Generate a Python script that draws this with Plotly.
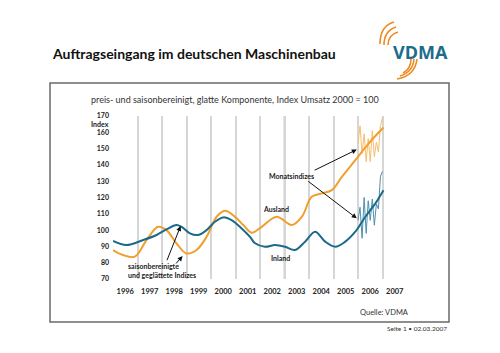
import plotly.graph_objects as go

# ---------------- data ----------------
years = [str(y) for y in range(1996, 2008)]
year_mid = [y + 0.5 for y in range(1996, 2008)]
y_ticks = [70, 80, 90, 100, 110, 120, 130, 140, 150, 160, 170]

inland_t = [1996.00, 1996.55, 1997.23, 1997.78, 1998.18, 1998.59, 1998.80, 1999.14, 1999.48,
            1999.82, 2000.16, 2000.50, 2000.84, 2001.25, 2001.59, 2001.80, 2002.20, 2002.61,
            2003.02, 2003.43, 2003.84, 2004.25, 2004.66, 2005.07, 2005.48, 2005.89, 2006.30,
            2006.71, 2007.04]
inland_v = [93.3, 90.8, 93.9, 97.0, 100.4, 103.1, 102.0, 98.0, 97.0,
            100.0, 105.1, 107.8, 106.1, 101.0, 95.9, 91.9, 89.8, 90.8,
            89.8, 87.8, 92.9, 99.0, 92.9, 89.8, 92.9, 99.0, 108.2,
            116.4, 124.5]

ausland_t = [1996.00, 1996.41, 1996.89, 1997.37, 1997.84, 1998.18, 1998.59, 1999.00, 1999.41,
             1999.82, 2000.23, 2000.57, 2000.98, 2001.32, 2001.66, 2002.07, 2002.68, 2003.30,
             2003.71, 2004.11, 2004.52, 2004.93, 2005.34, 2005.89, 2006.43, 2007.04]
ausland_v = [87.8, 84.7, 83.7, 93.9, 102.0, 100.0, 91.9, 85.7, 87.8,
             95.9, 108.2, 111.8, 108.2, 103.1, 98.4, 102.0, 108.2, 103.1,
             108.2, 120.4, 122.5, 124.5, 132.6, 142.9, 153.1, 162.9]

month_t = [2006 + i / 12 for i in range(13)]
ausland_monthly = [153, 164, 147, 159, 142, 156, 142, 161, 145, 154, 148, 164, 169]
inland_monthly = [106, 114, 95, 120, 98, 118, 106, 119, 103, 116, 113, 133, 136]

# ---------------- styling ----------------
ORANGE = "#F29E2C"
ORANGE_L = "#F6BE6E"
TEAL = "#1B6A89"
TEAL_L = "#4E90AB"
FONT = "Lato"

L, R, T, B = 113, 93, 116, 74
PW, PH = 500 - L - R, 353 - T - B


def px(x):
    return (x - L) / PW


def py(y):
    return (353 - B - y) / PH


fig = go.Figure()
fig.add_trace(go.Scatter(x=month_t, y=ausland_monthly, mode="lines",
                         line=dict(color=ORANGE_L, width=1), hoverinfo="skip"))
fig.add_trace(go.Scatter(x=month_t, y=inland_monthly, mode="lines",
                         line=dict(color=TEAL_L, width=1), hoverinfo="skip"))
fig.add_trace(go.Scatter(x=ausland_t, y=ausland_v, mode="lines",
                         line=dict(color=ORANGE, width=2, shape="spline", smoothing=1.0)))
fig.add_trace(go.Scatter(x=inland_t, y=inland_v, mode="lines",
                         line=dict(color=TEAL, width=2, shape="spline", smoothing=1.0)))

shapes = []
# darker gridlines
for gx in (2003, 2006):
    shapes.append(dict(type="line", xref="x", yref="y", x0=gx, x1=gx, y0=70, y1=170,
                       line=dict(color="#9a9a9a", width=1.5), layer="below"))
# frame
shapes.append(dict(type="rect", xref="paper", yref="paper", x0=px(50), x1=px(449),
                   y0=py(322), y1=py(83), line=dict(color="#6a6a6a", width=1.5)))


# logo arcs
def qpath(p0, c, p1):
    return "M %f,%f Q %f,%f %f,%f" % (px(p0[0]), py(p0[1]), px(c[0]), py(c[1]), px(p1[0]), py(p1[1]))


arcs_up = [((380, 44), (380, 26), (394, 22)),
           ((384, 45), (384, 31), (396, 27)),
           ((388, 45), (388, 35), (398, 32))]
arcs_dn = [((397, 79), (415, 76), (417, 59)),
           ((400, 76), (413, 72), (414, 59)),
           ((403, 73), (411, 69), (411, 59))]
for a in arcs_up + arcs_dn:
    shapes.append(dict(type="path", xref="paper", yref="paper", path=qpath(*a),
                       line=dict(color="#EE8A22", width=1.6)))

ann = []
ann.append(dict(text="<b>Auftragseingang im deutschen Maschinenbau</b>", xref="paper", yref="paper",
                x=px(50), y=py(53), xanchor="left", yanchor="middle", showarrow=False,
                font=dict(family=FONT, size=14, color="#111")))
ann.append(dict(text="<b>VDMA</b>", xref="paper", yref="paper",
                x=px(420), y=py(52), xanchor="center", yanchor="middle", showarrow=False,
                font=dict(family="Open Sans", size=18, color="#1D6C8C")))
ann.append(dict(text="preis- und saisonbereinigt, glatte Komponente, Index Umsatz 2000 = 100",
                xref="paper", yref="paper", x=px(89), y=py(100), xanchor="left", yanchor="middle",
                showarrow=False, font=dict(family=FONT, size=9, color="#333")))
ann.append(dict(text="<b>Index</b>", xref="paper", yref="paper", x=px(111), y=py(124),
                xanchor="right", yanchor="middle", showarrow=False,
                font=dict(family=FONT, size=7, color="#222")))
ann.append(dict(text="Quelle: VDMA", xref="paper", yref="paper", x=px(411), y=py(312),
                xanchor="right", yanchor="middle", showarrow=False,
                font=dict(family=FONT, size=7.5, color="#333")))
ann.append(dict(text="Seite 1 • 02.03.2007", xref="paper", yref="paper", x=px(449), y=py(328),
                xanchor="right", yanchor="middle", showarrow=False,
                font=dict(family=FONT, size=6.5, color="#333")))

lab_font = dict(family=FONT, size=7, color="#222")
ann.append(dict(text="<b>Monatsindizes</b>", x=2003.28, y=133.3, showarrow=False, font=lab_font))
ann.append(dict(text="<b>Ausland</b>", x=2002.67, y=112.9, showarrow=False, font=lab_font))
ann.append(dict(text="<b>Inland</b>", x=2002.85, y=83.0, showarrow=False, font=lab_font))
ann.append(dict(text="<b>saisonbereinigte<br>und geglättete Indizes</b>", x=1996.55, y=75.3,
                xanchor="left", yanchor="middle", align="left", showarrow=False, font=lab_font))

for (x0, y0, x1, y1) in [(2004.17, 136.3, 2005.95, 149.4),
                         (2003.91, 130.6, 2005.95, 107.2),
                         (1998.18, 80.6, 1998.76, 102.5),
                         (1998.52, 78.6, 1998.84, 84.1)]:
    ann.append(dict(text="", x=x1, y=y1, ax=x0, ay=y0, axref="x", ayref="y", xref="x", yref="y",
                    showarrow=True, arrowhead=2, arrowsize=1, arrowwidth=1, arrowcolor="#111",
                    standoff=0, startstandoff=0))

fig.update_layout(
    width=500, height=353, margin=dict(l=L, r=R, t=T, b=B, pad=0),
    paper_bgcolor="white", plot_bgcolor="white", showlegend=False,
    shapes=shapes, annotations=ann,
    xaxis=dict(range=[1996, 2008], tickvals=year_mid, ticktext=years, showgrid=False,
               zeroline=False, showline=False, ticks="", ticklabelstandoff=6,
               tickfont=dict(family=FONT, size=7.5, color="#222", weight="bold"),
               minor=dict(tickvals=list(range(1996, 2009)), showgrid=True,
                          gridcolor="#d6d6d6", gridwidth=1.6, ticks="")),
    yaxis=dict(range=[70, 170], tickvals=y_ticks, showgrid=False, zeroline=False,
               showline=False, ticks="", ticklabelstandoff=3,
               tickfont=dict(family=FONT, size=7, color="#222", weight="bold")),
)

fig.write_html("out.html")
